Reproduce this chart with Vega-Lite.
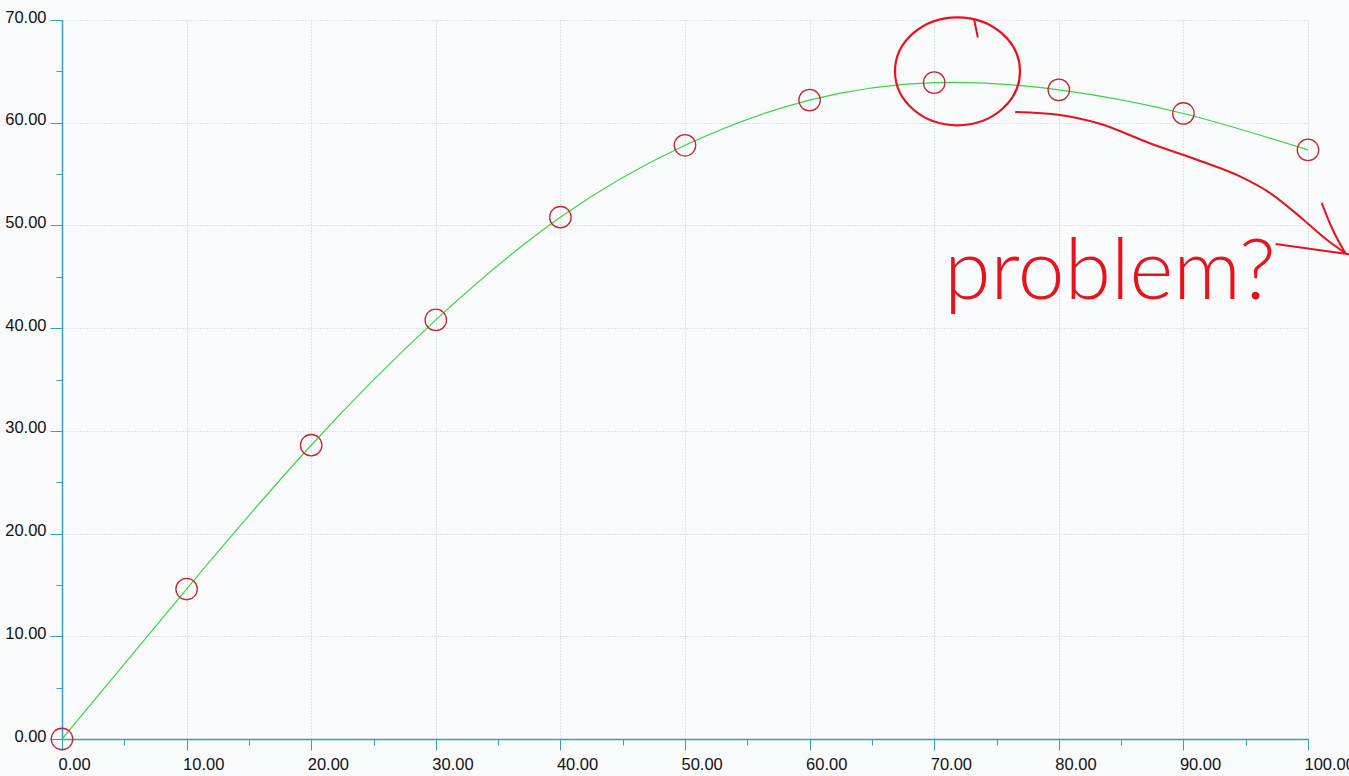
{
  "$schema": "https://vega.github.io/schema/vega-lite/v6.json",
  "width": 1246,
  "height": 719,
  "autosize": {"type": "none"},
  "padding": {"left": 62, "top": 20, "right": 41, "bottom": 37},
  "background": "#f9fafc",
  "view": {"fill": "#f9fafc", "stroke": null},
  "config": {
    "axis": {
      "labelFont": "Liberation Sans",
      "labelFontSize": 16.5,
      "labelColor": "#111111",
      "domainColor": "#3a9dbb",
      "domainWidth": 1.5,
      "tickColor": "#3a9dbb",
      "tickWidth": 1,
      "gridColor": "#b9cbd6",
      "gridDash": [1, 2],
      "gridWidth": 1,
      "title": null
    }
  },
  "datasets": {
    "pts": [
      {"x": 0, "y": 0},
      {"x": 10, "y": 14.6},
      {"x": 20, "y": 28.6},
      {"x": 30, "y": 40.8},
      {"x": 40, "y": 50.8},
      {"x": 50, "y": 57.8},
      {"x": 60, "y": 62.2},
      {"x": 70, "y": 63.9},
      {"x": 80, "y": 63.2},
      {"x": 90, "y": 60.9},
      {"x": 100, "y": 57.35}
    ],
    "ink": [
      {"stroke": "arrow", "o": 1, "x": 76.5, "y": 61.05},
      {"stroke": "arrow", "o": 2, "x": 80.1, "y": 60.76},
      {"stroke": "arrow", "o": 3, "x": 83.3, "y": 59.9},
      {"stroke": "arrow", "o": 4, "x": 87.3, "y": 58.0},
      {"stroke": "arrow", "o": 5, "x": 91.3, "y": 56.3},
      {"stroke": "arrow", "o": 6, "x": 94.5, "y": 54.8},
      {"stroke": "arrow", "o": 7, "x": 96.9, "y": 53.2},
      {"stroke": "arrow", "o": 8, "x": 99.4, "y": 50.8},
      {"stroke": "arrow", "o": 9, "x": 101.4, "y": 48.7},
      {"stroke": "arrow", "o": 10, "x": 103.0, "y": 47.3},
      {"stroke": "head1", "o": 1, "x": 101.1, "y": 52.2},
      {"stroke": "head1", "o": 2, "x": 101.9, "y": 49.8},
      {"stroke": "head1", "o": 3, "x": 103.0, "y": 47.3},
      {"stroke": "head2", "o": 1, "x": 97.4, "y": 48.2},
      {"stroke": "head2", "o": 2, "x": 103.3, "y": 47.2},
      {"stroke": "tail", "o": 1, "x": 73.2, "y": 70.1},
      {"stroke": "tail", "o": 2, "x": 73.5, "y": 68.3}
    ],
    "ring": [{"x": 71.87, "y": 65.0}],
    "note": [{"x": 70.8, "y": 42.8, "label": "problem?"}]
  },
  "layer": [
    {
      "data": {"name": "pts"},
      "mark": {"type": "line", "color": "#3fd23f", "strokeWidth": 1.2, "interpolate": "natural"},
      "encoding": {
        "x": {"field": "x", "type": "quantitative", "scale": {"domain": [0, 100], "nice": false},
          "axis": {"values": [0,10,20,30,40,50,60,70,80,90,100], "format": ".2f", "tickSize": 11, "labelAlign": "left", "labelOffset": -4, "labelPadding": 6, "grid": true, "domain": true}},
        "y": {"field": "y", "type": "quantitative", "scale": {"domain": [0, 70], "nice": false},
          "axis": {"values": [0,10,20,30,40,50,60,70], "format": ".2f", "tickSize": 12, "labelPadding": 4, "labelOffset": -3, "grid": true, "domain": true}}
      }
    },
    {
      "data": {"name": "pts"},
      "mark": {"type": "point", "shape": "circle", "filled": false, "color": "#c4262e", "strokeWidth": 1.3, "size": 460, "opacity": 1},
      "encoding": {
        "x": {"field": "x", "type": "quantitative",
          "axis": {"orient": "bottom", "values": [5,15,25,35,45,55,65,75,85,95], "tickSize": 6, "labels": false, "grid": false, "domain": false}},
        "y": {"field": "y", "type": "quantitative",
          "axis": {"orient": "left", "values": [5,15,25,35,45,55,65], "tickSize": 6, "labels": false, "grid": false, "domain": false}}
      }
    },
    {
      "data": {"name": "ring"},
      "mark": {"type": "point", "shape": "M -1 0 A 1 0.864 0 1 0 1 0 A 1 0.864 0 1 0 -1 0 Z", "filled": false, "color": "#e8121b", "strokeWidth": 2.2, "size": 15625, "opacity": 1},
      "encoding": {
        "x": {"field": "x", "type": "quantitative", "axis": null},
        "y": {"field": "y", "type": "quantitative", "axis": null}
      }
    },
    {
      "data": {"name": "ink"},
      "mark": {"type": "line", "color": "#e8121b", "strokeWidth": 2, "interpolate": "monotone", "clip": false},
      "encoding": {
        "x": {"field": "x", "type": "quantitative", "axis": null},
        "y": {"field": "y", "type": "quantitative", "axis": null},
        "detail": {"field": "stroke"},
        "order": {"field": "o"}
      }
    },
    {
      "data": {"name": "note"},
      "mark": {"type": "text", "color": "#e8121b", "font": "Lato", "fontWeight": 300, "fontSize": 84, "align": "left", "baseline": "alphabetic"},
      "encoding": {
        "x": {"field": "x", "type": "quantitative", "axis": null},
        "y": {"field": "y", "type": "quantitative", "axis": null},
        "text": {"field": "label"}
      }
    }
  ],
  "resolve": {"axis": {"x": "independent", "y": "independent"}}
}
